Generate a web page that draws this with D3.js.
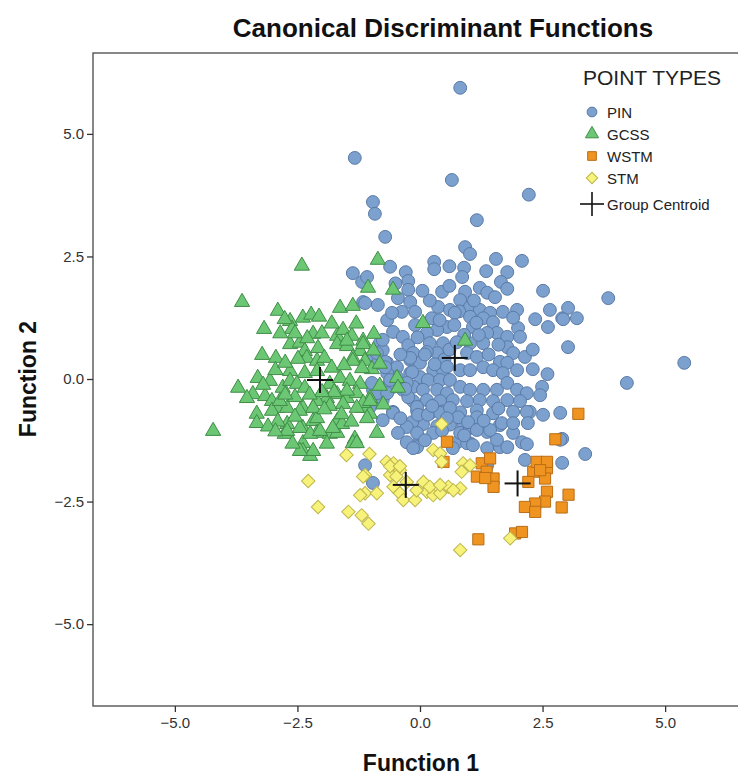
<!DOCTYPE html>
<html><head><meta charset="utf-8">
<script src="https://cdn.jsdelivr.net/npm/d3@7"></script>
<style>body{margin:0;background:#fff;} text{font-family:"Liberation Sans",Arial,sans-serif;}</style>
</head><body><svg id="c" width="738" height="779"></svg>
<script>
const xTicks = [-5, -2.5, 0, 2.5, 5];
const yTicks = [5, 2.5, 0, -2.5, -5];
const groups = ["PIN", "GCSS", "WSTM", "STM"];

const pin = [[0.82,5.94],[-1.33,4.51],[0.65,4.06],[-0.96,3.61],[-0.92,3.37],[2.22,3.76],[1.16,3.24],[-0.71,2.90],[0.92,2.69],[1.02,2.55],
[2.08,2.41],[0.29,2.39],[0.29,2.24],[-0.61,2.29],[-0.29,2.18],[-0.24,2.00],[0.90,2.27],[0.86,2.08],[1.78,2.18],[1.65,1.98],
[1.78,1.84],[2.51,1.80],[3.84,1.65],[-0.24,1.82],[0.45,1.78],[0.92,1.78],[1.22,1.86],[1.37,1.76],[1.53,1.67],[-0.86,1.51],
[-1.16,1.57],[-0.45,1.65],[-0.20,1.57],[-0.37,1.37],[0.37,1.47],[0.61,1.41],[0.82,1.61],[1.02,1.47],[0.80,1.38],[1.22,1.41],
[1.43,1.35],[1.69,1.37],[1.98,1.41],[2.35,1.22],[2.65,1.41],[2.90,1.24],[3.02,1.45],[3.20,1.24],[2.61,1.06],[3.02,0.65],
[-0.67,1.20],[-0.55,0.96],[-0.10,1.37],[0.24,1.24],[0.55,1.06],[0.35,1.00],[0.14,0.94],[0.71,1.35],[1.02,1.27],[1.29,1.24],
[1.08,1.06],[1.49,1.16],[1.57,0.94],[1.37,0.94],[2.00,1.04],[1.78,0.86],[2.04,0.86],[-0.35,0.86],[-0.24,0.69],[-0.14,0.53],
[-0.82,0.73],[-0.76,0.59],[-0.96,0.45],[0.20,0.73],[0.47,0.73],[0.35,0.53],[0.14,0.55],[1.02,0.73],[1.29,0.73],[0.96,0.53],
[1.16,0.45],[1.78,0.65],[1.90,0.53],[1.63,0.35],[2.14,0.45],[-0.67,0.33],[-0.47,0.24],[-0.20,0.39],[0.00,0.33],[-0.20,0.12],
[0.00,0.04],[-0.47,0.04],[0.27,0.18],[0.47,0.18],[0.16,-0.02],[0.41,-0.02],[0.61,-0.02],[0.82,0.18],[1.02,0.18],[1.29,0.24],
[1.49,0.18],[1.78,0.33],[1.69,0.12],[1.98,0.18],[-0.55,-0.16],[-0.35,-0.22],[-0.14,-0.16],[0.06,-0.22],[0.35,-0.22],[0.55,-0.29],
[0.82,-0.16],[1.02,-0.22],[1.29,-0.22],[1.57,-0.22],[1.78,-0.08],[1.98,-0.22],[2.18,-0.29],[2.49,-0.16],[2.45,-0.33],
[-0.14,-0.45],[0.14,-0.43],[0.41,-0.45],[0.67,-0.43],[0.96,-0.45],[1.22,-0.43],[1.49,-0.45],[1.78,-0.43],[2.04,-0.45],[2.24,-0.67],
[-0.55,-0.67],[-0.06,-0.65],[0.20,-0.70],[0.47,-0.66],[0.82,-0.68],[1.16,-0.64],[1.49,-0.70],[1.90,-0.67],[2.86,-0.69],
[-0.16,-0.94],[0.06,-0.92],[0.35,-0.96],[0.61,-0.93],[0.88,-0.95],[1.16,-0.92],[1.63,-0.94],
[-0.27,-1.29],[0.00,-1.24],[0.27,-1.10],[0.76,-1.29],[1.02,-1.31],[1.37,-1.41],[1.63,-1.39],[2.08,-1.29],[2.18,-1.33],[3.37,-1.53],
[-1.12,1.55],[-0.57,1.35],[-0.86,0.33],[-0.71,0.35],[-0.67,0.12],[-0.61,-0.08],[-0.82,-0.33],[-0.96,-0.22],[-0.76,-0.43],[-0.20,0.43],
[-0.16,0.14],[-0.27,-0.08],[-0.24,-0.37],[-0.06,-0.57],[-0.16,-0.88],[-0.04,-0.73],[0.16,-0.73],[0.41,-0.69],[0.61,-0.59],[0.78,-0.78],
[-0.27,-0.98],[-0.06,-1.10],[-0.06,-1.39],[0.82,-1.10],[1.02,-1.00],[1.16,-0.78],[0.96,-1.31],[1.08,-1.35],[1.37,-1.08],[1.57,-1.24],
[1.78,-1.39],[1.67,-0.90],[1.90,-1.10],[2.92,1.22],[5.39,0.33],[4.22,-0.08],[2.90,-1.22],[2.90,-1.71],
[-0.14,-1.41],[0.67,-1.41],[0.98,-0.88],[1.16,-1.04],[1.43,-1.04],[2.18,-0.67],[2.51,-0.73],[2.86,-1.24],[2.14,-1.65],[-1.12,-1.76],
[-0.96,-2.12],[1.37,-1.76],[-1.37,2.16],[-1.18,1.98],[-1.08,2.08],[-0.76,0.80],[-0.88,0.53],[-0.71,0.24],[-0.61,-0.02],[-0.88,-0.29],
[-0.67,-0.29],[-0.55,-0.69],[-0.76,-0.84],[-0.98,-0.08],[-1.02,-0.57],
[0.10,0.50],[0.50,0.40],[0.30,0.30],[0.60,0.60],[0.90,0.90],[1.20,0.90],[0.40,1.20],[0.70,1.10],[1.10,1.60],[0.60,1.90],
[0.20,1.60],[-0.10,1.10],[-0.40,0.50],[-0.30,-0.20],[0.25,-0.55],[0.55,-0.80],[0.90,-1.15],[1.30,-0.85],[1.60,-0.60],[1.90,-0.90],
[0.10,-1.25],[0.45,-1.05],[-0.40,-0.80],[-0.45,-1.10],[0.55,0.25],[1.40,0.50],[1.60,0.70],[2.30,0.60],[2.30,0.20],[2.60,0.10],
[2.20,-0.90],[-0.05,0.85],[0.75,0.75],[1.15,1.15],[1.90,1.25],[0.05,1.80],[-0.50,1.95],[0.60,2.30],[1.35,2.20],[1.55,2.45]];

const gcss = [[-2.41,2.33],[-0.86,2.45],[-3.63,1.59],[-2.90,1.41],[-3.18,1.04],[-3.22,0.51],[-2.94,0.45],[-1.06,1.88],[-0.55,1.84],[-1.63,1.47],
[-1.37,1.51],[-2.65,1.20],[-2.39,1.27],[-2.22,1.33],[-2.06,1.29],[-2.61,1.04],[-2.18,0.94],[-2.65,0.73],[-2.45,0.76],[-2.35,0.59],
[-2.08,0.65],[-1.69,0.90],[-1.57,1.02],[-1.39,0.90],[-1.16,0.80],[-0.94,0.94],[-1.69,0.73],[-1.49,0.69],[-1.22,0.59],[-1.37,0.45],
[-1.12,0.39],[-0.98,0.22],[-2.31,0.45],[-2.10,0.39],[-2.49,0.43],[-2.65,0.18],[-2.35,0.14],[-2.10,0.18],[-3.31,0.04],[-3.06,-0.02],
[-3.71,-0.16],[-3.41,-0.29],[-3.53,-0.37],[-3.16,-0.33],[-3.02,-0.43],[-2.80,-0.16],[-2.65,-0.02],[-2.51,-0.08],[-2.35,-0.16],[-1.84,-0.08],
[-1.63,0.04],[-1.43,-0.02],[-1.22,-0.08],[-1.69,-0.29],[-1.49,-0.37],[-1.29,-0.27],[-1.02,-0.37],[-0.82,-0.12],[-0.47,0.04],[-0.45,-0.16],
[-1.90,-0.37],[-2.10,-0.43],[-2.92,-0.57],[-2.71,-0.57],[-2.39,-0.57],[-3.33,-0.69],[-3.33,-0.88],[-3.02,-0.63],[-1.16,-0.57],[-1.02,-0.69],
[-2.71,-0.90],[-2.39,-0.98],[-2.18,-0.84],[-1.69,-0.84],[-2.10,-1.08],[-1.84,-1.10],[-4.22,-1.04],[-2.76,-1.10],[-1.33,-1.20],[-0.88,-1.08],
[-2.86,-0.43],[-2.10,-0.78],[-1.69,-1.08],[-2.39,-1.29],[-2.39,-1.45],[-2.24,-1.55],[-1.37,-1.29],[-1.16,-0.47],[0.06,1.16],[0.92,0.80],
[-1.49,0.80],[-1.16,0.73],[-1.37,0.39],[-1.18,0.24],[-0.82,0.33],[-1.49,-0.22],[-1.02,-0.43],[-1.59,-0.90],[-2.45,-0.63],[-2.18,-0.57],
[-1.84,-0.53],[-1.57,-0.49],[-1.29,-0.57],[-2.71,-1.04],[-2.45,-0.98],[-2.24,-1.10],[-2.04,-1.04],[-1.78,-0.98],[-2.18,-1.45],[-2.45,-1.45],
[-1.29,-1.29],[-1.08,-0.78],[-2.76,1.24],
[-2.55,0.95],[-2.85,0.95],[-2.30,0.85],[-1.95,0.45],[-1.80,0.25],[-1.55,0.30],[-1.75,-0.25],[-2.00,-0.25],[-2.25,-0.30],[-2.55,-0.35],
[-2.75,-0.30],[-3.20,-0.10],[-2.95,0.20],[-2.75,0.35],[-1.95,-0.60],[-1.60,-0.70],[-2.55,-0.75],[-2.90,-0.85],[-3.10,-0.95],[-1.90,-1.30],
[-2.00,0.95],[-1.80,1.15],[-1.30,1.15],[-0.95,0.60],[-0.75,-0.50],[-1.40,-0.85],[-2.95,-1.05],[-2.60,-1.30]];

const wstm = [[3.23,-0.71],[2.76,-1.23],[0.55,-1.28],[0.48,-1.69],[1.26,-1.72],[1.43,-1.62],[1.16,-1.99],[1.36,-1.89],[1.50,-2.03],[1.50,-2.20],
[2.31,-1.89],[2.59,-1.82],[2.38,-1.69],[2.59,-1.69],[2.55,-2.03],[2.21,-2.10],[2.59,-2.30],[3.03,-2.36],[2.55,-2.50],[2.35,-2.54],
[2.14,-2.61],[2.35,-2.71],[2.89,-2.62],[1.19,-3.27],[1.94,-3.15],[2.08,-3.12],[1.33,-2.02],[2.45,-1.86]];

const stm = [[0.44,-0.92],[-1.50,-1.55],[-1.03,-1.53],[0.27,-1.45],[0.41,-1.52],[0.44,-1.69],[-0.68,-1.69],[-0.54,-1.72],[-0.41,-1.86],[-0.61,-1.96],
[-0.48,-1.99],[-1.12,-1.96],[-2.28,-2.08],[-1.12,-2.33],[-0.88,-2.33],[-1.22,-2.37],[-0.54,-2.20],[-0.41,-2.33],[-0.34,-2.47],[-0.10,-2.47],
[0.07,-2.10],[0.14,-2.30],[0.27,-2.37],[0.41,-2.33],[0.58,-2.20],[0.82,-2.23],[0.88,-1.72],[1.02,-1.76],[0.85,-1.89],[-2.08,-2.61],
[-1.46,-2.71],[-1.19,-2.78],[-1.05,-2.95],[0.82,-3.49],[1.84,-3.25],[-0.27,-2.10],[-0.07,-2.27],[0.20,-2.20],[0.41,-2.16],[0.68,-2.27],
[-0.61,-1.78],[-0.41,-1.78],[-1.16,-1.99]];

const centroids = [[0.71,0.43],[-2.04,-0.02],[1.99,-2.13],[-0.29,-2.16]];

const svg = d3.select("#c");
const x = d3.scaleLinear().domain([-6.67, 6.67]).range([93, 747]);
const y = d3.scaleLinear().domain([-6.67, 6.65]).range([706, 53]);

svg.append("rect").attr("x", 93).attr("y", 53).attr("width", 654).attr("height", 653)
  .attr("fill", "#fff").attr("stroke", "#555").attr("stroke-width", 1.4);

const xa = svg.append("g").attr("transform", "translate(0,706)")
  .call(d3.axisBottom(x).tickValues(xTicks).tickSize(6).tickPadding(5).tickFormat(d3.format(".1f")));
const ya = svg.append("g").attr("transform", "translate(93,0)")
  .call(d3.axisLeft(y).tickValues(yTicks).tickSize(6).tickPadding(3).tickFormat(d3.format(".1f")));
[xa, ya].forEach(a => {
  a.select(".domain").remove();
  a.selectAll("line").attr("stroke", "#333").attr("stroke-width", 1.3);
  a.selectAll("text").attr("font-size", 15).attr("fill", "#333")
    .attr("font-family", "'Liberation Sans',Arial,sans-serif");
});

const col = {
  PIN: {fill: "#7ca1cf", stroke: "#5a7aa5"},
  GCSS: {fill: "#6cc774", stroke: "#3f8d47"},
  WSTM: {fill: "#f09421", stroke: "#b96d15"},
  STM: {fill: "#f6f27a", stroke: "#bdb54c"}
};
const sym = {
  PIN: d3.symbol().type(d3.symbolCircle).size(130),
  GCSS: d3.symbol().type(d3.symbolTriangle).size(100),
  WSTM: d3.symbol().type(d3.symbolSquare).size(125),
  STM: d3.symbol().type(d3.symbolSquare).size(90)
};
const data = {PIN: pin, GCSS: gcss, WSTM: wstm, STM: stm};
const plot = svg.append("g");
groups.forEach(g => {
  plot.selectAll(null).data(data[g]).enter().append("path")
    .attr("d", sym[g]())
    .attr("transform", d => `translate(${x(d[0])},${y(d[1])})` + (g === "STM" ? " rotate(45)" : "") + (g === "GCSS" ? " translate(0,1)" : ""))
    .attr("fill", col[g].fill).attr("stroke", col[g].stroke).attr("stroke-width", 1);
});

const cg = svg.append("g");
centroids.forEach(c => {
  const cx = x(c[0]), cy = y(c[1]);
  cg.append("line").attr("x1", cx - 13).attr("x2", cx + 13).attr("y1", cy).attr("y2", cy).attr("stroke", "#111").attr("stroke-width", 2);
  cg.append("line").attr("x1", cx).attr("x2", cx).attr("y1", cy - 13).attr("y2", cy + 13).attr("stroke", "#111").attr("stroke-width", 2);
});

svg.append("text").attr("x", 443).attr("y", 37).attr("text-anchor", "middle")
  .attr("font-size", 26).attr("font-weight", "bold").attr("fill", "#111").text("Canonical Discriminant Functions");
svg.append("text").attr("x", 421).attr("y", 771).attr("text-anchor", "middle")
  .attr("font-size", 23).attr("font-weight", "bold").attr("fill", "#111").text("Function 1");
svg.append("text").attr("transform", "translate(36,379) rotate(-90)").attr("text-anchor", "middle")
  .attr("font-size", 23).attr("font-weight", "bold").attr("fill", "#111").text("Function 2");

const lg = svg.append("g");
lg.append("text").attr("x", 583).attr("y", 85).attr("font-size", 21).attr("fill", "#222").text("POINT TYPES");
const ly = [112, 134, 156, 178];
groups.forEach((g, i) => {
  const s = g === "STM" ? d3.symbol().type(d3.symbolSquare).size(65)() : d3.symbol().type(sym[g].type()).size(75)();
  lg.append("path").attr("d", s)
    .attr("transform", `translate(592,${ly[i]})` + (g === "STM" ? " rotate(45)" : ""))
    .attr("fill", col[g].fill).attr("stroke", col[g].stroke);
  lg.append("text").attr("x", 607).attr("y", ly[i] + 5.5).attr("font-size", 15).attr("fill", "#222").text(g);
});
lg.append("line").attr("x1", 580).attr("x2", 604).attr("y1", 204).attr("y2", 204).attr("stroke", "#111").attr("stroke-width", 1.6);
lg.append("line").attr("x1", 592).attr("x2", 592).attr("y1", 192).attr("y2", 216).attr("stroke", "#111").attr("stroke-width", 1.6);
lg.append("text").attr("x", 607).attr("y", 209.5).attr("font-size", 15).attr("fill", "#222").text("Group Centroid");
</script></body></html>
